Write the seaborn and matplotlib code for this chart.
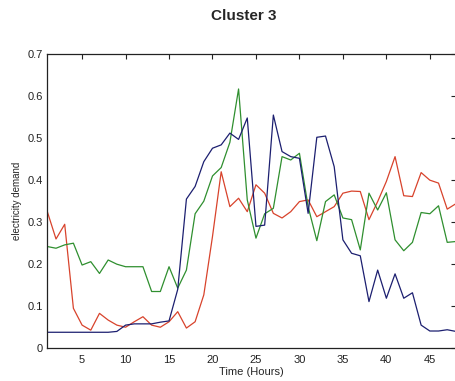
import numpy as np
import pandas as pd
import matplotlib
matplotlib.use("Agg")
import matplotlib.pyplot as plt
import seaborn as sns

hours = list(range(1, 49))

red = [0.325, 0.26, 0.295, 0.095, 0.055, 0.043, 0.083, 0.067, 0.055, 0.050,
       0.063, 0.075, 0.055, 0.050, 0.063, 0.087, 0.048, 0.063, 0.127, 0.266,
       0.420, 0.337, 0.357, 0.325, 0.389, 0.369, 0.321, 0.310, 0.325, 0.349,
       0.353, 0.313, 0.325, 0.337, 0.369, 0.374, 0.373, 0.306, 0.349, 0.397,
       0.456, 0.363, 0.361, 0.418, 0.400, 0.393, 0.331, 0.344]

green = [0.242, 0.238, 0.246, 0.250, 0.198, 0.206, 0.178, 0.210, 0.200, 0.194,
         0.194, 0.194, 0.135, 0.135, 0.194, 0.143, 0.186, 0.320, 0.350, 0.410,
         0.430, 0.490, 0.617, 0.353, 0.262, 0.320, 0.333, 0.456, 0.448, 0.464,
         0.337, 0.256, 0.349, 0.365, 0.310, 0.306, 0.234, 0.369, 0.329, 0.370,
         0.258, 0.232, 0.252, 0.323, 0.320, 0.339, 0.252, 0.254]

blue = [0.038, 0.038, 0.038, 0.038, 0.038, 0.038, 0.038, 0.038, 0.040, 0.055,
        0.058, 0.058, 0.058, 0.062, 0.065, 0.140, 0.355, 0.385, 0.444, 0.476,
        0.484, 0.512, 0.497, 0.548, 0.290, 0.293, 0.555, 0.468, 0.456, 0.452,
        0.321, 0.502, 0.505, 0.432, 0.258, 0.226, 0.220, 0.111, 0.186, 0.119,
        0.177, 0.119, 0.132, 0.055, 0.041, 0.041, 0.044, 0.040]

xticks = [5, 10, 15, 20, 25, 30, 35, 40, 45]
yticks = [0, 0.1, 0.2, 0.3, 0.4, 0.5, 0.6, 0.7]
ytick_labels = ["0", "0.1", "0.2", "0.3", "0.4", "0.5", "0.6", "0.7"]

series_names = ["red", "green", "blue"]
palette = {"red": "#d8432c", "green": "#2f8f2f", "blue": "#1c1f70"}

df = pd.concat([
    pd.DataFrame({"hour": hours, "demand": vals, "series": name})
    for name, vals in zip(series_names, [red, green, blue])
], ignore_index=True)

sns.set_style("white")
plt.rcParams["font.family"] = ["Liberation Sans", "DejaVu Sans"]

fig = plt.figure(figsize=(4.55, 3.81), dpi=100)
ax = fig.add_axes([0.104, 0.086, 0.898, 0.772])

sns.lineplot(data=df, x="hour", y="demand", hue="series", palette=palette,
             hue_order=series_names, linewidth=0.9, legend=False, ax=ax,
             estimator=None, sort=False)

ax.set_xlim(1, 48)
ax.set_ylim(0, 0.7)
ax.set_xticks(xticks)
ax.set_xticklabels([str(t) for t in xticks])
ax.set_yticks(yticks)
ax.set_yticklabels(ytick_labels)
ax.tick_params(direction="in", length=3.5, width=0.8, labelsize=8,
               top=True, right=True, colors="#222222")
ax.tick_params(axis="x", pad=5)
ax.tick_params(axis="y", pad=3)
for s in ax.spines.values():
    s.set_visible(True)
    s.set_linewidth(0.9)
    s.set_color("#222222")

ax.set_xlabel("Time (Hours)", fontsize=8, labelpad=1.5)
ax.set_ylabel("electricity demand", fontsize=7, labelpad=4)
fig.text(0.535, 0.958, "Cluster 3", ha="center", va="center",
         fontsize=11, fontweight="bold")

fig.savefig("out.png", dpi=100, facecolor="white")
